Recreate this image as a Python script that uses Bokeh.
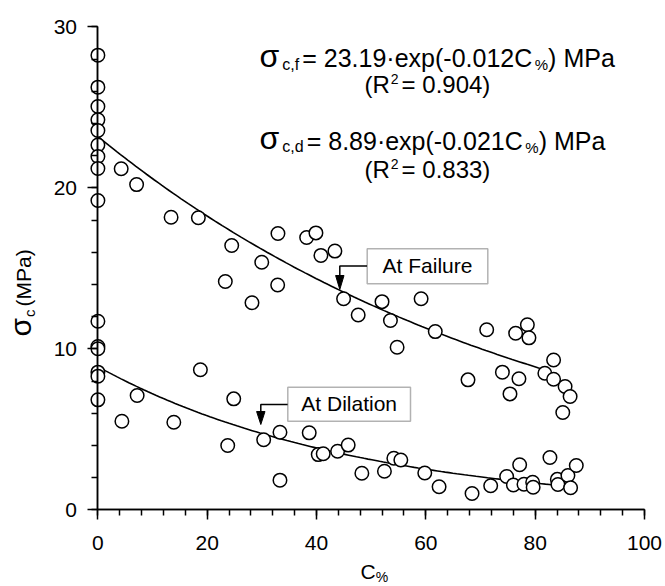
import math
import numpy as np
from bokeh.plotting import figure
from bokeh.models import Range1d, Label, BoxAnnotation, FixedTicker, LinearAxis
from bokeh.core.properties import value
from bokeh.embed import file_html
from bokeh.resources import INLINE

# ---- measured strengths: carbonate content C% vs sigma_c (MPa) ----
FAIL_C = [0, 0, 0, 0, 0, 0, 0, 0, 0,
          4.26, 7.08, 13.39, 18.38, 24.48, 29.98, 23.31, 32.89, 32.94, 38.19,
          39.89, 40.80, 43.36, 44.95, 28.19, 47.62, 51.98, 53.52, 59.13, 61.72,
          54.74, 71.13, 76.43, 78.57, 78.86, 67.71, 74.00, 77.03, 75.39, 83.37,
          81.77, 83.37, 85.47, 86.39, 85.05]
FAIL_SIGMA = [28.24, 26.25, 25.05, 24.23, 23.56, 22.66, 21.94, 21.20, 19.21,
              21.18, 20.20, 18.17, 18.14, 16.42, 15.38, 14.18, 13.96, 17.16, 16.91,
              17.20, 15.80, 16.07, 13.11, 12.86, 12.10, 12.93, 11.76, 13.11, 11.07,
              10.10, 11.18, 10.97, 11.49, 10.68, 8.07, 8.55, 8.14, 7.20, 9.30,
              8.48, 8.11, 7.66, 7.04, 6.04]

DIL_C = [0, 0, 0, 0, 0, 0,
         4.39, 7.18, 13.89, 18.75, 23.75, 24.85, 30.33, 33.31, 33.31, 38.66,
         40.31, 41.22, 43.85, 45.79, 48.29, 52.42, 54.14, 55.42, 59.80, 62.42,
         68.45, 71.86, 74.78, 77.16, 76.01, 77.95, 79.54, 79.63, 82.70, 84.05,
         84.16, 85.99, 86.48, 87.52]
DIL_SIGMA = [11.71, 10.14, 10.00, 8.55, 8.30, 6.83,
             5.50, 7.10, 5.44, 8.70, 3.99, 6.89, 4.35, 4.82, 1.84, 4.78,
             3.43, 3.48, 3.64, 4.02, 2.27, 2.39, 3.20, 3.09, 2.29, 1.43,
             1.01, 1.49, 2.07, 2.80, 1.54, 1.59, 1.71, 1.40, 3.25, 1.89,
             1.57, 2.13, 1.37, 2.75]

# exponential fits sigma = A * exp(-k * C)
FAIL_A, FAIL_K, FAIL_R2, FAIL_C_END = 23.19, 0.012, 0.904, 82.0
DIL_A, DIL_K, DIL_R2, DIL_C_END = 8.89, 0.021, 0.833, 84.0

X_TICKS = [0, 20, 40, 60, 80, 100]
X_MINOR = list(range(0, 101, 4))
Y_TICKS = [0, 10, 20, 30]
Y_MINOR = list(range(0, 31, 2))

# ---- canvas geometry (pixels) ----
WIDTH, HEIGHT = 665, 586
B_LEFT, B_RIGHT, B_TOP, B_BOTTOM = 12, 0, 5, 0
X0_PX, X100_PX = 97.4, 644.0     # where C% = 0 and 100 sit
Y0_PX, Y30_PX = 509.3, 26.3      # where sigma = 0 and 30 sit
PX_X = (X100_PX - X0_PX) / 100.0
PX_Y = (Y0_PX - Y30_PX) / 30.0
X_MIN = (B_LEFT - X0_PX) / PX_X
X_MAX = (WIDTH - B_RIGHT - X0_PX) / PX_X
Y_MIN = (Y0_PX - (HEIGHT - B_BOTTOM)) / PX_Y
Y_MAX = (Y0_PX - B_TOP) / PX_Y

# text boxes sit this far (in em) below the requested alphabetic baseline
BASE_FIX = 0.36


def dx(px):
    return (px - X0_PX) / PX_X


def dy(py):
    return (Y0_PX - py) / PX_Y


FONT = "Liberation Sans"

# Arial-metric advance widths (per 1000 em) for laying out mixed-size runs
ADV = {' ': 278, '(': 333, ')': 333, ',': 278, '-': 333, '.': 278, '=': 584,
       '%': 889, '·': 278, 'A': 667, 'C': 722, 'D': 722, 'F': 611, 'M': 833,
       'P': 667, 'R': 722, 'a': 556, 'c': 500, 'd': 556, 'e': 556, 'f': 278,
       'i': 222, 'l': 222, 'n': 556, 'o': 556, 'p': 556, 'r': 333, 't': 278,
       'u': 556, 'x': 500, 'σ': 620}


def text_width(s, size):
    return sum(ADV.get(ch, 556) for ch in s) * size / 1000.0


def place_runs(p, runs, px, py, vertical=False):
    """Draw (text, size_px, baseline_shift_px, extra_gap_px) runs in sequence,
    starting at canvas pixel (px, py) on the baseline."""
    pos = 0.0
    for t, s, shift, gap in runs:
        lift = shift + BASE_FIX * s
        if vertical:
            lab = Label(x=dx(px - lift), y=dy(py - pos),
                        angle=math.pi / 2, angle_units="rad")
        else:
            lab = Label(x=dx(px + pos), y=dy(py - lift))
        lab.text = t
        lab.text_font = FONT
        lab.text_font_size = f"{s}px"
        lab.text_color = "black"
        lab.text_align = "left"
        lab.text_baseline = "alphabetic"
        p.add_layout(lab)
        pos += text_width(t, s) + gap


p = figure(width=WIDTH, height=HEIGHT,
           x_range=Range1d(X_MIN, X_MAX), y_range=Range1d(Y_MIN, Y_MAX),
           x_axis_location=None, y_axis_location=None,
           output_backend="svg", toolbar_location=None, min_border=0,
           min_border_left=B_LEFT, min_border_right=B_RIGHT,
           min_border_top=B_TOP, min_border_bottom=B_BOTTOM)
p.outline_line_color = None
p.background_fill_color = "white"
p.border_fill_color = "white"
p.grid.visible = False


def pinned_axis(ticks, bounds, tick_len, inward):
    """Axis line pinned at 0 carrying one family of tick marks (no labels)."""
    ax = LinearAxis(fixed_location=0, bounds=bounds,
                    ticker=FixedTicker(ticks=[], minor_ticks=ticks))
    ax.axis_line_width = 1.5
    ax.axis_line_color = "black"
    ax.minor_tick_line_width = 1.5
    ax.minor_tick_line_color = "black"
    ax.minor_tick_in = tick_len if inward else 0
    ax.minor_tick_out = 0 if inward else tick_len
    ax.major_tick_in = 0
    ax.major_tick_out = 0
    ax.major_label_standoff = 0
    return ax


# x axis: ticks hang below the line; y axis: ticks point left
p.add_layout(pinned_axis(X_MINOR, (0, 100), 6, True), "above")
p.add_layout(pinned_axis(X_TICKS, (0, 100), 10, True), "above")
p.add_layout(pinned_axis(Y_MINOR, (0, 30), 6, False), "left")
p.add_layout(pinned_axis(Y_TICKS, (0, 30), 10, False), "left")

# tick labels
p.text(x=X_TICKS, y=[dy(550.0 - BASE_FIX * 21)] * len(X_TICKS),
       text=[str(t) for t in X_TICKS],
       text_font=value(FONT), text_font_size="21px", text_color="black",
       text_align="center", text_baseline="alphabetic")
p.text(x=[dx(76.5)] * len(Y_TICKS),
       y=[t - (7.6 - BASE_FIX * 21) / PX_Y for t in Y_TICKS],
       text=[str(t) for t in Y_TICKS],
       text_font=value(FONT), text_font_size="21px", text_color="black",
       text_align="right", text_baseline="alphabetic")

# fitted curves
cf = np.linspace(0, FAIL_C_END, 120)
cd = np.linspace(0, DIL_C_END, 120)
p.line(cf, FAIL_A * np.exp(-FAIL_K * cf), line_color="black", line_width=1.6)
p.line(cd, DIL_A * np.exp(-DIL_K * cd), line_color="black", line_width=1.6)

# specimens
p.scatter(FAIL_C, FAIL_SIGMA, marker="circle", size=13.5, fill_color="white",
          line_color="black", line_width=1.5)
p.scatter(DIL_C, DIL_SIGMA, marker="circle", size=13.5, fill_color="white",
          line_color="black", line_width=1.5)

# callouts (canvas pixels): text, box (left, right, top, bottom),
# leader y, arrow x, head base y, tip y, text baseline y
CALLOUTS = [
    ("At Failure", (366.7, 487.3, 248.3, 283.3), 265.5, 339.3, 275.0, 289.0, 273.0),
    ("At Dilation", (287.3, 410.0, 386.7, 420.7), 404.0, 260.3, 411.0, 424.0, 410.5),
]
HEAD_HALF = 4.2
for text, (bl, br, bt, bb), ly, ax_, hb, tip, tb in CALLOUTS:
    p.add_layout(BoxAnnotation(left=dx(bl), right=dx(br), bottom=dy(bb), top=dy(bt),
                               fill_color="white", fill_alpha=1.0,
                               line_color="black", line_width=1.5))
    p.line([dx(bl), dx(ax_), dx(ax_)], [dy(ly), dy(ly), dy(hb)],
           line_color="black", line_width=1.5)
    p.patch([dx(ax_ - HEAD_HALF), dx(ax_ + HEAD_HALF), dx(ax_)],
            [dy(hb), dy(hb), dy(tip)],
            fill_color="black", line_color="black", line_width=1)
    p.add_layout(Label(x=dx((bl + br) / 2), y=dy(tb - BASE_FIX * 21), text=text,
                       text_font=FONT, text_font_size="21px", text_color="black",
                       text_align="center", text_baseline="alphabetic"))

# fit equations
place_runs(p, [("σ", 32, 0, 3), ("c,f", 16, -3, 3),
               (f" = {FAIL_A:.2f}·exp(-{FAIL_K:.3f}C", 25, 0, -3), ("%", 15, -3, 0),
               (") MPa", 25, 0, 0)], 259.0, 66.7)
place_runs(p, [("(R", 24, 0, 1), ("2", 14, 9, 3), (f" = {FAIL_R2:.3f})", 24, 0, 0)],
           364.0, 92.8)
place_runs(p, [("σ", 32, 0, 3), ("c,d", 16, -3, 3),
               (f" = {DIL_A:.2f}·exp(-{DIL_K:.3f}C", 25, 0, -3), ("%", 15, -3, 0),
               (") MPa", 25, 0, 0)], 259.0, 149.0)
place_runs(p, [("(R", 24, 0, 1), ("2", 14, 9, 3), (f" = {DIL_R2:.3f})", 24, 0, 0)],
           364.0, 177.5)

# axis titles
place_runs(p, [("C", 21, 0, 0), ("%", 14, -3, 0)], 360.0, 578.5)
place_runs(p, [("σ", 30, 0, 1), ("c", 15, -3, 3), (" (MPa)", 21, 0, 0)],
           31.0, 336.0, vertical=True)

open("out.html", "w").write(file_html(p, INLINE))
